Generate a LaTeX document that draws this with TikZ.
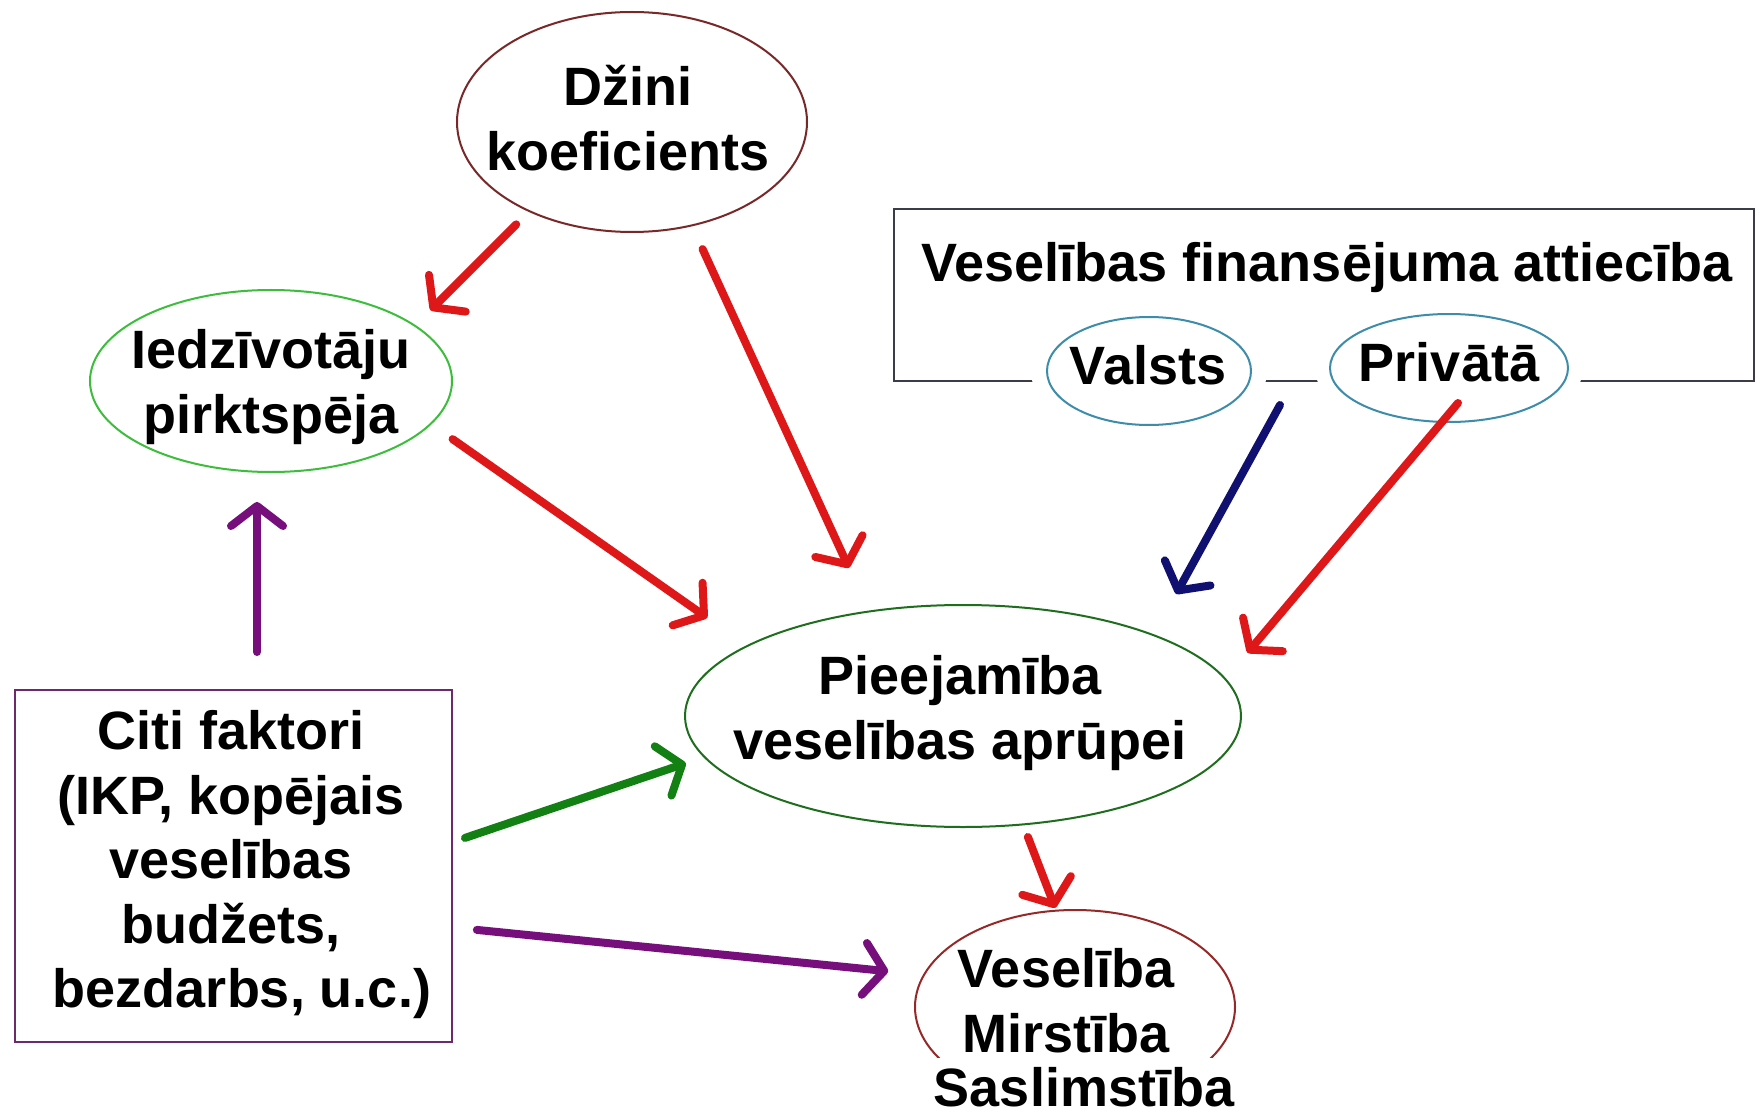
\documentclass[tikz,border=0pt]{standalone}
\usepackage{fontspec}
\setmainfont{Liberation Sans}
\usetikzlibrary{arrows.meta,shapes.geometric}
\definecolor{cred}{RGB}{222,24,24}
\definecolor{cpurple}{RGB}{118,14,124}
\definecolor{cgreen}{RGB}{18,128,18}
\definecolor{cnavy}{RGB}{16,16,112}
\definecolor{cmaroon}{RGB}{120,40,40}
\definecolor{clgreen}{RGB}{60,190,60}
\definecolor{cteal}{RGB}{60,140,170}
\definecolor{cdgreen}{RGB}{30,110,30}
\definecolor{cboxgray}{RGB}{60,60,72}
\definecolor{cbpurple}{RGB}{110,40,110}
\definecolor{cvred}{RGB}{150,40,40}
\begin{document}
\begin{tikzpicture}[x=1pt,y=-1pt,
  lbl/.style={font=\fontsize{54}{65}\selectfont\bfseries, align=center, inner sep=0pt},
  ell/.style={ellipse, draw=#1, line width=2pt, inner sep=0pt, outer sep=0pt},
  frame/.style={rectangle, draw=#1, line width=2pt, inner sep=0pt, outer sep=0pt},
  arr/.style={draw=#1, line width=8pt, line cap=round,
    -{Straight Barb[length=20pt,width=52pt,round]}},
]
\path[use as bounding box, fill=white] (0,0) rectangle (1756,1115);

% financing frame
\node[frame=cboxgray, minimum width=860pt, minimum height=172pt] (fin) at (1324,295) {};
% white halos that break the frame line
\fill[white] (1149,371) ellipse [x radius=118, y radius=68];
\fill[white] (1449,368) ellipse [x radius=134, y radius=68];

% shapes
\node[ell=cmaroon, minimum width=350pt, minimum height=220pt] (dz) at (632,122) {};
\node[ell=clgreen, minimum width=362pt, minimum height=182pt] (ie) at (271,381) {};
\node[ell=cteal, minimum width=204pt, minimum height=108pt] (val) at (1149,371) {};
\node[ell=cteal, minimum width=238pt, minimum height=108pt] (pri) at (1449,368) {};
\node[ell=cdgreen, minimum width=556pt, minimum height=222pt] (pie) at (963,716) {};
\node[ell=cvred, minimum width=320pt, minimum height=194pt] (ves) at (1075,1007) {};
\node[frame=cbpurple, minimum width=437pt, minimum height=352pt] (citi) at (233.5,866) {};
% white text background that hides the lower part of the health ellipse
\fill[white] (912,1058) rectangle (1254,1115);

% texts
\node[lbl] (dzt) at (628,118) {Džini\\koeficients};
\node[lbl] (iet) at (271,387) {Iedzīvotāju\\pirktspēja};
\node[lbl] (fint) at (1327,268) {Veselības finansējuma attiecība};
\node[lbl] (valt) at (1148,365) {Valsts};
\node[lbl] (prit) at (1449,362) {Privātā};
\node[lbl] (piet) at (960,713) {Pieejamība\\veselības aprūpei};
\node[lbl, anchor=base] (sast) at (1084,1106) {Saslimstība};
\node[lbl] (vest) at (1066,1001) {Veselība\\Mirstība};
\node[lbl, font=\fontsize{54}{64.5}\selectfont\bfseries] (citit) at (231,865)
  {Citi faktori\\(IKP, kopējais\\veselības\hspace*{46pt}\\budžets,\hspace*{30pt}\\\hspace*{22pt}bezdarbs, u.c.)};

% connectors
\draw[arr=cred, shorten <=18.7pt, shorten >=22pt] (dz.221.8) -- (ie.21.4);
\draw[arr=cred, shorten <=26pt, shorten >=48pt] (dz.300) -- (pie.132.4);
\draw[arr=cred, shorten <=26.7pt, shorten >=49pt] (ie.345.5) -- (pie.162);
\draw[arr=cpurple, shorten <=38pt, shorten >=30pt] ([xshift=23.5pt]citi.north) -- ([xshift=-14pt]ie.south);
\draw[arr=cgreen, shorten <=13.7pt, shorten >=19.8pt] ([yshift=23.7pt]citi.east) -- (pie.189.5);
\draw[arr=cpurple, shorten <=25pt, shorten >=36pt] ([yshift=-61.4pt]citi.east) -- (ves.168.7);
\draw[arr=cred, shorten <=13.5pt, shorten >=3pt] (pie.299) -- (ves.101.2);
\draw[arr=cnavy, shorten >=47pt] ([shift={(29pt,-34pt)}]val.east) -- (pie.23.8);
\draw[arr=cred, shorten >=34.5pt] ([shift={(9pt,-35pt)}]pri.center) -- (pie.8.7);
\end{tikzpicture}
\end{document}
